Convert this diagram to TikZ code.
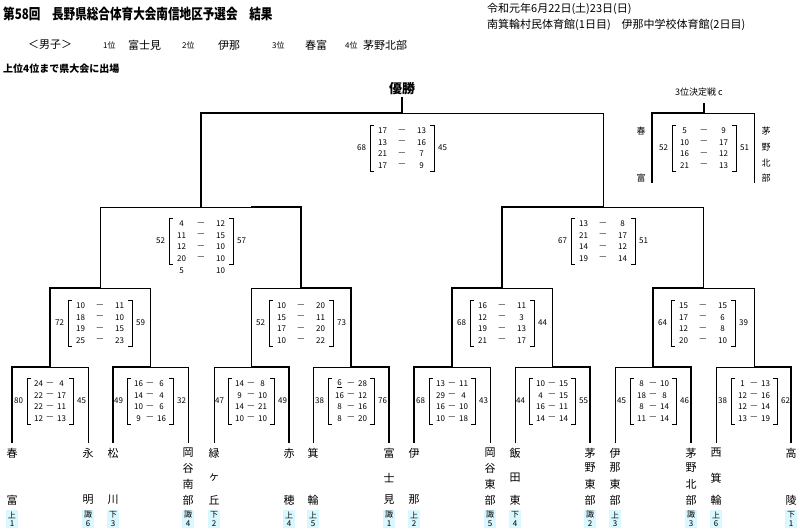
\documentclass[tikz,border=0pt]{standalone}
\usepackage{fontspec}
\setmainfont{Noto Sans CJK JP}
\usetikzlibrary{positioning}

\tikzset{
  win/.style={line width=2pt},
  lose/.style={line width=0.7pt},
  bracket/.style={line width=0.6pt},
  score/.style={inner sep=0pt, font=\fontsize{8}{8}\selectfont},
  namechar/.style={inner sep=0pt, font=\fontsize{11}{11}\selectfont},
  badge/.style={fill=blue!20!cyan!15, inner sep=0pt, minimum width=12pt, minimum height=18pt, font=\fontsize{8}{8.5}\selectfont, align=center},
  head/.style={inner sep=0pt, anchor=west}
}

% score block: centre x, first line y, spread, bracket half width, left total, right total, list a/b
\newcommand{\scorebox}[7]{%
  \foreach \a/\b [count=\i] in {#7} {
    \node[score] at ({#1-#3},{#2+(\i-1)*11.5}) {\a};
    \node[score] at (#1,{#2+(\i-1)*11.5}) {—};
    \node[score] at ({#1+#3},{#2+(\i-1)*11.5}) {\b};
  }
  \draw[bracket] ({#1-#4+4},#2-6) -| ({#1-#4},#2+40.5) -- ++(4,0);
  \draw[bracket] ({#1+#4-4},#2-6) -| ({#1+#4},#2+40.5) -- ++(-4,0);
  \node[score] at ({#1-#4-8.5},#2+17) {#5};
  \node[score] at ({#1+#4+8.5},#2+17) {#6};
}

\begin{document}
\begin{tikzpicture}[x=1pt, y=-1pt]
    \useasboundingbox (0,0) rectangle (800,529);

    % Header
    \node[head, xscale=0.8, font=\bfseries\fontsize{14.5}{14.5}\selectfont] (title) at (3,14) {第58回　長野県総合体育大会南信地区予選会　結果};
    \node[head, font=\fontsize{11}{11}\selectfont] (date) at (487,9) {令和元年6月22日(土)23日(日)};
    \node[head, font=\fontsize{11}{11}\selectfont] (venue) at (487,25) {南箕輪村民体育館(1日目)　伊那中学校体育館(2日目)};
    \node[head, font=\fontsize{11}{11}\selectfont] (boys) at (28,45) {＜男子＞};
    \node[head, font=\fontsize{8}{8}\selectfont] (r1) at (103,45) {1位};
    \node[head, font=\fontsize{11}{11}\selectfont] (t1) at (128,45) {富士見};
    \node[head, font=\fontsize{8}{8}\selectfont] (r2) at (182,45) {2位};
    \node[head, font=\fontsize{11}{11}\selectfont] (t2) at (218,45) {伊那};
    \node[head, font=\fontsize{8}{8}\selectfont] (r3) at (272,45) {3位};
    \node[head, font=\fontsize{11}{11}\selectfont] (t3) at (305,45) {春富};
    \node[head, font=\fontsize{8}{8}\selectfont] (r4) at (345,45) {4位};
    \node[head, font=\fontsize{11}{11}\selectfont] (t4) at (363,45) {茅野北部};
    \node[head, font=\bfseries\fontsize{10}{10}\selectfont] (note) at (3,69) {上位4位まで県大会に出場};
    \node[inner sep=0pt, font=\bfseries\fontsize{13}{13}\selectfont] (champ) at (402,89) {優勝};
    \node[head, font=\fontsize{9}{9}\selectfont] (third) at (675,92) {3位決定戦 c};

    % Teams
    \foreach \x/\chars/\bt/\bn [count=\k] in {
      12/{春/453,富/500}/上/1, 88/{永/453,明/500}/諏/6,
      113/{松/453,川/500}/下/3, 188/{岡/453,谷/468,南/484,部/500}/諏/4,
      214/{緑/453,ヶ/478,丘/500}/下/2, 289/{赤/453,穂/500}/上/4,
      313/{箕/453,輪/500}/上/5, 389/{富/453,士/478,見/500}/諏/1,
      414/{伊/453,那/500}/上/2, 490/{岡/453,谷/468,東/484,部/500}/諏/5,
      515/{飯/453,田/478,東/500}/下/4, 590/{茅/453,野/468,東/484,部/500}/諏/2,
      615/{伊/453,那/468,東/484,部/500}/上/3, 691/{茅/453,野/468,北/484,部/500}/諏/3,
      716/{西/453,箕/478,輪/500}/上/6, 791/{高/453,陵/500}/下/1} {
      \coordinate (L\k) at (\x,443);
      \foreach \c/\y in \chars { \node[namechar] at (\x,\y) {\c}; }
      \node[badge] (B\k) at (\x,519) {\bt\\\bn};
    }

    % Match points
    \foreach \x [count=\k] in {50,150,251,351,452,552,653,754} { \coordinate (M\k) at (\x,367); }
    \foreach \x [count=\k] in {100,301,502,703} { \coordinate (Q\k) at (\x,288); }
    \coordinate (S1) at (251,207);
    \coordinate (S1L) at (201,207);
    \coordinate (S2) at (603,207);
    \coordinate (F) at (402,113);
    \coordinate (T) at (402,97);
    \coordinate (P) at (704,113);
    \coordinate (PT) at (704,103);
    \coordinate (PL) at (652,183);
    \coordinate (PR) at (754,183);

    % First round
    \draw[win] (L1) |- (M1);   \draw[lose] (L2) |- (M1);
    \draw[win] (L3) |- (M2);   \draw[lose] (L4) |- (M2);
    \draw[lose] (L5) |- (M3);  \draw[win] (L6) |- (M3);
    \draw[lose] (L7) |- (M4);  \draw[win] (L8) |- (M4);
    \draw[win] (L9) |- (M5);   \draw[lose] (L10) |- (M5);
    \draw[lose] (L11) |- (M6); \draw[win] (L12) |- (M6);
    \draw[lose] (L13) |- (M7); \draw[win] (L14) |- (M7);
    \draw[lose] (L15) |- (M8); \draw[win] (L16) |- (M8);

    % Second round
    \draw[win] (M1) |- (Q1);  \draw[lose] (M2) |- (Q1);
    \draw[lose] (M3) |- (Q2); \draw[win] (M4) |- (Q2);
    \draw[win] (M5) |- (Q3);  \draw[lose] (M6) |- (Q3);
    \draw[win] (M7) |- (Q4);  \draw[lose] (M8) |- (Q4);

    % Semi finals and final
    \draw[lose] (Q1) |- (S1); \draw[win] (Q2) |- (S1);
    \draw[win] (Q3) |- (S2);  \draw[lose] (Q4) |- (S2);
    \draw[win] (S1L) |- (F);  \draw[lose] (S2) |- (F);
    \draw[win] (F) -- (T);

    % Third place
    \draw[win] (PL) |- (P); \draw[lose] (PR) |- (P);
    \draw[win] (P) -- (PT);
    \node[namechar, font=\fontsize{9}{9}\selectfont] at (641,131) {春};
    \node[namechar, font=\fontsize{9}{9}\selectfont] at (641,178) {富};
    \foreach \c/\y in {茅/131,野/147,北/163,部/178} { \node[namechar, font=\fontsize{9}{9}\selectfont] at (766,\y) {\c}; }

    % Scores
    \scorebox{50}{384}{11.5}{23}{80}{45}{24/4,22/17,22/11,12/13}
    \scorebox{150}{384}{11.5}{23}{49}{32}{16/6,14/4,10/6,9/16}
    \scorebox{251}{384}{11.5}{23}{47}{49}{14/8,9/10,14/21,10/10}
    \scorebox{351}{384}{11.5}{23}{38}{76}{\underline{6}/28,16/12,8/16,8/20}
    \scorebox{452}{384}{11.5}{23}{68}{43}{13/11,29/4,16/10,10/18}
    \scorebox{552}{384}{11.5}{23}{44}{55}{10/15,4/15,16/11,14/14}
    \scorebox{653}{384}{11.5}{23}{45}{46}{8/10,18/8,8/14,11/14}
    \scorebox{754}{384}{11.5}{23}{38}{62}{1/13,12/16,12/14,13/19}
    \scorebox{100}{306}{19.5}{32}{72}{59}{10/11,18/10,19/15,25/23}
    \scorebox{301}{306}{19.5}{32}{52}{73}{10/20,15/11,17/20,10/22}
    \scorebox{502}{306}{19.5}{32}{68}{44}{16/11,12/3,19/13,21/17}
    \scorebox{703}{306}{19.5}{32}{64}{39}{15/15,17/6,12/8,20/10}
    \scorebox{201}{224}{19.5}{32}{52}{57}{4/12,11/15,12/10,20/10}
    \node[score] at (181.5,271) {5};
    \node[score] at (220.5,271) {10};
    \scorebox{603}{224}{19.5}{32}{67}{51}{13/8,21/17,14/12,19/14}
    \scorebox{402}{131}{19.5}{32}{68}{45}{17/13,13/16,21/7,17/9}
    \scorebox{704}{131}{19.5}{32}{52}{51}{5/9,10/17,16/12,21/13}
\end{tikzpicture}
\end{document}
